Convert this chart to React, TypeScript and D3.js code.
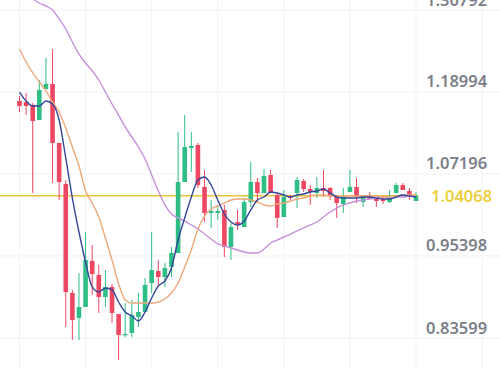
import React from "react";
import * as d3 from "d3";

const opens = [1.1770,1.1756,1.1712,1.1497,1.1943,1.2015,1.1166,1.0576,0.9007,0.8648,0.8806,0.9468,0.9266,0.8950,0.9094,0.8705,0.8403,0.8432,0.8662,0.8734,0.9151,0.9324,0.9238,0.9382,0.9583,1.0604,1.1094,1.1137,1.0533,1.0158,1.0158,1.0202,0.9669,1.0029,0.9957,1.0317,1.0604,1.0446,1.0705,1.0417,1.0101,1.0403,1.0446,1.0619,1.0504,1.0446,1.0518,1.0518,1.0389,1.0288,1.0461,1.0533,1.0317,1.0403,1.0360,1.0360,1.0317,1.0446,1.0561,1.0475,1.0331];
const highs = [1.1842,1.1885,1.1741,1.2072,1.2389,1.2518,1.1166,1.0633,0.9051,0.9295,0.9885,0.9698,0.9410,0.9338,0.9137,0.8705,0.8864,0.8907,0.9007,0.9223,0.9885,0.9482,0.9439,0.9669,1.1324,1.1568,1.1324,1.1166,1.0777,1.0346,1.0259,1.0274,1.0015,1.0202,1.0374,1.0892,1.0662,1.0792,1.0777,1.0446,1.0489,1.0417,1.0676,1.0648,1.0561,1.0676,1.0777,1.0533,1.0417,1.0518,1.0777,1.0662,1.0389,1.0461,1.0360,1.0389,1.0489,1.0590,1.0590,1.0518,1.0461];
const lows = [1.1612,1.1568,1.0446,1.1497,1.1943,1.0590,1.0346,0.8518,0.8331,0.8331,0.8806,0.8979,0.8720,0.8806,0.8576,0.8043,0.8374,0.8374,0.8518,0.8734,0.9007,0.9123,0.9094,0.9238,0.9583,1.0604,1.0748,1.0518,1.0029,0.9943,1.0058,0.9525,0.9482,0.9914,0.9957,1.0245,1.0302,1.0446,1.0446,0.9943,1.0101,1.0346,1.0230,1.0461,1.0274,1.0374,1.0389,1.0346,1.0087,1.0158,1.0461,1.0302,1.0245,1.0360,1.0245,1.0288,1.0302,1.0446,1.0489,1.0346,1.0331];
const closes = [1.1698,1.1698,1.1482,1.1928,1.2015,1.1166,1.0604,0.9022,0.8619,0.8806,0.9482,0.9281,0.8950,0.9094,0.8720,0.8403,0.8417,0.8691,0.8734,0.9123,0.9338,0.9238,0.9367,0.9583,1.0604,1.1108,1.1123,1.0561,1.0158,1.0187,1.0187,0.9669,0.9957,1.0000,1.0317,1.0604,1.0446,1.0691,1.0446,1.0087,1.0389,1.0374,1.0633,1.0504,1.0461,1.0518,1.0475,1.0417,1.0302,1.0403,1.0533,1.0389,1.0389,1.0360,1.0331,1.0331,1.0389,1.0561,1.0489,1.0389,1.0407];

const maFast = [1.1899,1.1770,1.1698,1.1698,1.1770,1.1727,1.1497,1.0950,1.0374,0.9885,0.9453,0.9094,0.9022,0.9079,0.9051,0.8878,0.8734,0.8677,0.8605,0.8734,0.8936,0.9108,0.9180,0.9367,0.9770,1.0087,1.0389,1.0633,1.0676,1.0561,1.0346,1.0144,1.0029,0.9986,1.0043,1.0202,1.0346,1.0389,1.0461,1.0446,1.0417,1.0389,1.0417,1.0432,1.0461,1.0475,1.0504,1.0446,1.0389,1.0374,1.0374,1.0374,1.0389,1.0389,1.0374,1.0360,1.0360,1.0389,1.0417,1.0403,1.0389];
const maMid = [1.2518,1.2331,1.2173,1.2043,1.1914,1.1756,1.1612,1.1381,1.1108,1.0835,1.0475,1.0302,1.0101,0.9799,0.9482,0.9137,0.8907,0.8864,0.8864,0.8864,0.8864,0.8878,0.8921,0.9007,0.9151,0.9382,0.9626,0.9928,1.0115,1.0216,1.0259,1.0302,1.0346,1.0360,1.0360,1.0346,1.0317,1.0274,1.0259,1.0288,1.0302,1.0331,1.0360,1.0374,1.0403,1.0417,1.0417,1.0403,1.0403,1.0403,1.0403,1.0403,1.0403,1.0403,1.0403,1.0389,1.0389,1.0403,1.0417,1.0417,1.0417];
const maSlow = [1.3324,1.3281,1.3238,1.3180,1.3137,1.3079,1.2950,1.2806,1.2619,1.2446,1.2317,1.2202,1.2072,1.1899,1.1727,1.1568,1.1396,1.1252,1.1108,1.0935,1.0705,1.0475,1.0274,1.0144,1.0087,1.0043,0.9986,0.9928,0.9856,0.9784,0.9713,0.9684,0.9655,0.9626,0.9597,0.9583,0.9583,0.9641,0.9727,0.9770,0.9813,0.9856,0.9900,0.9943,0.9986,1.0029,1.0101,1.0173,1.0230,1.0274,1.0302,1.0331,1.0346,1.0360,1.0374,1.0389,1.0389,1.0389,1.0389,1.0403,1.0403];

const priceTicks = [1.30792, 1.18994, 1.07196, 0.95398, 0.83599];
const priceTickLabels = ["1.30792", "1.18994", "1.07196", "0.95398", "0.83599"];
const lastPrice = 1.04068;
const lastPriceLabel = "1.04068";
const gridIndices = [0, 10, 20, 30, 40, 50, 60, 70];

const W = 500;
const H = 380;
const UP = "#2ebd85";
const DOWN = "#ee4762";

export default function App() {
  const x = d3.scaleLinear().domain([0, 60]).range([19.5, 416]);
  const y = d3.scaleLinear().domain([0.83599, 1.30792]).range([338, 10]);
  const idx = d3.range(opens.length);
  const line = d3
    .line<number>()
    .x((_, i) => x(i))
    .y((v) => y(v))
    .curve(d3.curveMonotoneX);
  const bw = 4.6;

  return (
    <svg
      width={W}
      height={H}
      style={{ position: "absolute", left: 0, top: 0, background: "#fff" }}
    >
      <defs>
        <clipPath id="plot">
          <rect x={0} y={0} width={420} height={H} />
        </clipPath>
      </defs>
      {priceTicks.map((t, i) => (
        <line key={"h" + i} x1={0} x2={W} y1={y(t)} y2={y(t)} stroke="#f1f2f4" strokeWidth={1} />
      ))}
      {gridIndices.map((g) => (
        <line key={"v" + g} x1={x(g)} x2={x(g)} y1={0} y2={368} stroke="#f1f2f4" strokeWidth={1} />
      ))}
      <g clipPath="url(#plot)">
        <line x1={0} x2={418} y1={y(lastPrice)} y2={y(lastPrice)} stroke="#e9c53a" strokeWidth={1.3} />
        {idx.map((i) => {
          const up = closes[i] >= opens[i];
          const c = up ? UP : DOWN;
          const top = y(Math.max(opens[i], closes[i]));
          const bot = y(Math.min(opens[i], closes[i]));
          return (
            <g key={"c" + i}>
              <line x1={x(i)} x2={x(i)} y1={y(highs[i])} y2={y(lows[i])} stroke={c} strokeWidth={1} />
              <rect x={x(i) - bw / 2} y={top} width={bw} height={Math.max(1.2, bot - top)} fill={c} />
            </g>
          );
        })}
        <path d={line(maSlow) || ""} fill="none" stroke="#c592dd" strokeWidth={1.4} />
        <path d={line(maMid) || ""} fill="none" stroke="#eda97c" strokeWidth={1.4} />
        <path d={line(maFast) || ""} fill="none" stroke="#34479b" strokeWidth={1.4} />
      </g>
      {priceTicks.map((t, i) => (
        <text
          key={"t" + i}
          x={426}
          y={y(t) - 4.5}
          fontFamily="'Noto Sans', sans-serif"
          fontSize={16.5}
          fontWeight={600}
          fill="#7c8089"
        >
          {priceTickLabels[i]}
        </text>
      ))}
      <text
        x={431}
        y={y(lastPrice) + 5.8}
        fontFamily="'Noto Sans', sans-serif"
        fontSize={16.5}
        fontWeight={600}
        fill="#ecd03f"
      >
        {lastPriceLabel}
      </text>
    </svg>
  );
}
